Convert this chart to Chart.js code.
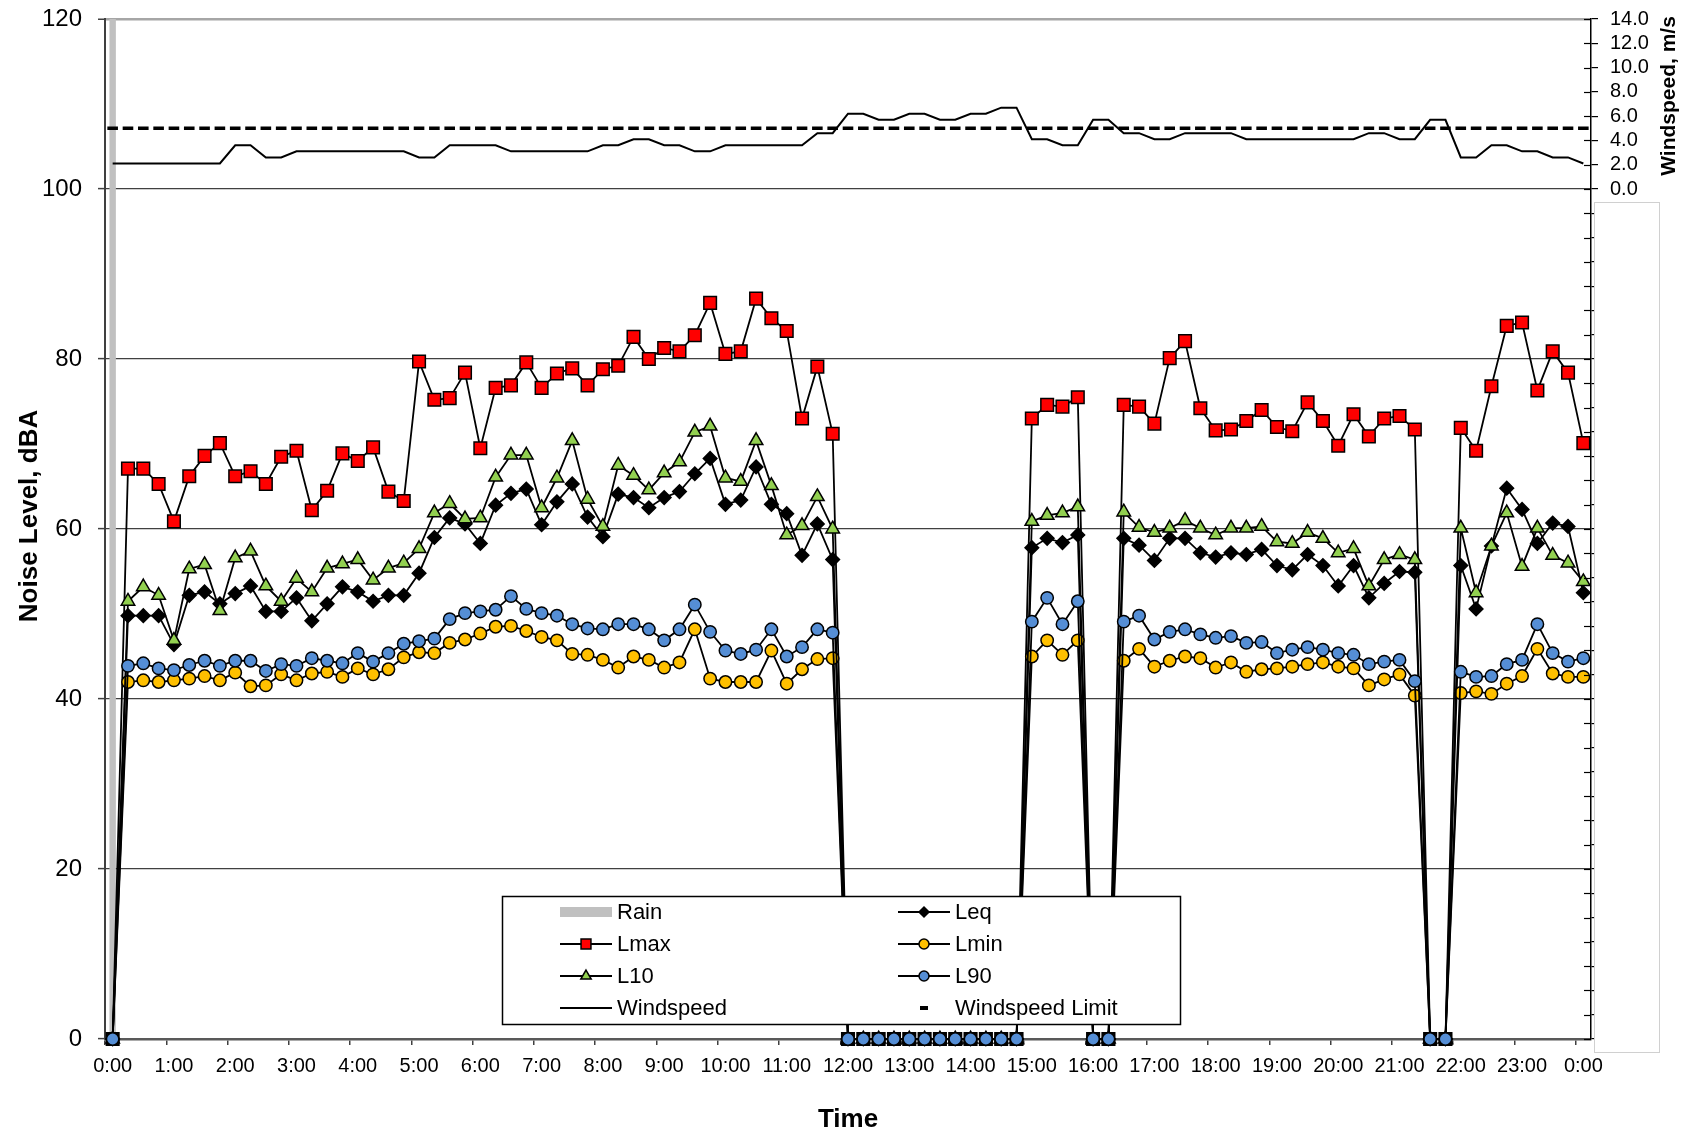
<!DOCTYPE html>
<html>
<head>
<meta charset="utf-8">
<title>Noise Level and Windspeed</title>
<script src="https://cdn.jsdelivr.net/npm/chart.js@4.4.1/dist/chart.umd.min.js"></script>
<style>
  html, body { margin: 0; padding: 0; background: #fff; }
  #wrap { width: 1686px; height: 1136px; }
</style>
</head>
<body>
<div id="wrap"><canvas id="noise-chart" width="1686" height="1136"></canvas></div>
<script>
// ============= DATA =============

// 15-minute intervals, 0:00 through to the following 0:00
const timeLabels = [];
for (let h = 0; h < 24; h++) {
  for (const m of ['00', '15', '30', '45']) timeLabels.push(h + ':' + m);
}
timeLabels.push('0:00');

// Noise levels in dBA, one row = 3 hours. 0 = no measurement for that interval
const lmax = [
  0, 67.1, 67.1, 65.3, 60.9, 66.2, 68.6, 70.1, 66.2, 66.8, 65.3, 68.5,
  69.2, 62.2, 64.5, 68.9, 68.0, 69.6, 64.4, 63.3, 79.7, 75.2, 75.4, 78.4,
  69.5, 76.6, 76.9, 79.6, 76.6, 78.3, 78.9, 76.9, 78.8, 79.2, 82.6, 80.0,
  81.3, 80.9, 82.8, 86.6, 80.6, 80.9, 87.1, 84.8, 83.3, 73.0, 79.1, 71.2,
  0, 0, 0, 0, 0, 0, 0, 0, 0, 0, 0, 0,
  73.0, 74.6, 74.4, 75.5, 0, 0, 74.6, 74.4, 72.4, 80.1, 82.1, 74.2,
  71.6, 71.7, 72.7, 74.0, 72.0, 71.5, 74.9, 72.7, 69.8, 73.5, 70.9, 73.0,
  73.3, 71.7, 0, 0, 71.9, 69.2, 76.8, 83.9, 84.3, 76.3, 80.9, 78.4,
  70.1
];

const leq = [
  0, 49.8, 49.8, 49.8, 46.4, 52.2, 52.6, 51.2, 52.4, 53.3, 50.3, 50.3,
  51.9, 49.2, 51.2, 53.2, 52.6, 51.5, 52.2, 52.2, 54.8, 59.0, 61.3, 60.6,
  58.3, 62.8, 64.2, 64.7, 60.5, 63.2, 65.3, 61.4, 59.1, 64.1, 63.7, 62.5,
  63.7, 64.4, 66.5, 68.3, 62.9, 63.4, 67.3, 62.9, 61.8, 56.9, 60.6, 56.4,
  0, 0, 0, 0, 0, 0, 0, 0, 0, 0, 0, 0,
  57.8, 58.9, 58.4, 59.3, 0, 0, 58.9, 58.1, 56.3, 58.9, 58.9, 57.2,
  56.7, 57.2, 57.0, 57.6, 55.7, 55.2, 57.0, 55.7, 53.3, 55.7, 51.9, 53.6,
  55.0, 54.9, 0, 0, 55.7, 50.6, 58.0, 64.8, 62.3, 58.3, 60.7, 60.3,
  52.5
];

const l10 = [
  0, 51.5, 53.2, 52.2, 46.9, 55.3, 55.8, 50.4, 56.6, 57.4, 53.3, 51.5,
  54.2, 52.6, 55.4, 55.9, 56.4, 54.0, 55.4, 56.0, 57.7, 61.9, 63.0, 61.2,
  61.3, 66.1, 68.7, 68.7, 62.5, 66.0, 70.4, 63.5, 60.3, 67.5, 66.3, 64.6,
  66.6, 67.9, 71.4, 72.1, 66.0, 65.6, 70.4, 65.1, 59.3, 60.4, 63.8, 60.0,
  0, 0, 0, 0, 0, 0, 0, 0, 0, 0, 0, 0,
  60.9, 61.6, 61.9, 62.6, 0, 0, 62.0, 60.2, 59.6, 60.1, 61.0, 60.1,
  59.3, 60.1, 60.1, 60.3, 58.5, 58.3, 59.6, 58.9, 57.2, 57.7, 53.3, 56.4,
  57.0, 56.4, 0, 0, 60.1, 52.5, 58.0, 61.9, 55.6, 60.1, 56.9, 56.0,
  53.8
];

const l90 = [
  0, 43.9, 44.2, 43.6, 43.4, 44.0, 44.5, 43.9, 44.5, 44.5, 43.3, 44.1,
  43.9, 44.8, 44.5, 44.2, 45.4, 44.4, 45.4, 46.5, 46.8, 47.1, 49.4, 50.1,
  50.3, 50.5, 52.1, 50.6, 50.1, 49.8, 48.8, 48.3, 48.2, 48.8, 48.8, 48.2,
  46.9, 48.2, 51.1, 47.9, 45.7, 45.3, 45.8, 48.2, 45.0, 46.1, 48.2, 47.8,
  0, 0, 0, 0, 0, 0, 0, 0, 0, 0, 0, 0,
  49.1, 51.9, 48.8, 51.5, 0, 0, 49.1, 49.8, 47.0, 47.9, 48.2, 47.6,
  47.2, 47.4, 46.6, 46.7, 45.4, 45.8, 46.1, 45.8, 45.4, 45.2, 44.1, 44.4,
  44.6, 42.1, 0, 0, 43.2, 42.6, 42.7, 44.1, 44.6, 48.8, 45.4, 44.4,
  44.8
];

const lmin = [
  0, 42.0, 42.2, 42.0, 42.2, 42.4, 42.7, 42.2, 43.1, 41.5, 41.6, 42.9,
  42.2, 43.0, 43.2, 42.6, 43.6, 42.9, 43.5, 44.9, 45.5, 45.4, 46.6, 47.0,
  47.7, 48.5, 48.6, 48.0, 47.3, 46.9, 45.3, 45.2, 44.6, 43.7, 45.0, 44.6,
  43.7, 44.3, 48.2, 42.4, 42.0, 42.0, 42.0, 45.7, 41.8, 43.5, 44.7, 44.8,
  0, 0, 0, 0, 0, 0, 0, 0, 0, 0, 0, 0,
  45.0, 46.9, 45.2, 46.9, 0, 0, 44.5, 45.9, 43.8, 44.5, 45.0, 44.8,
  43.7, 44.3, 43.2, 43.5, 43.6, 43.8, 44.1, 44.3, 43.8, 43.6, 41.6, 42.3,
  42.9, 40.4, 0, 0, 40.7, 40.9, 40.6, 41.8, 42.7, 45.9, 43.0, 42.6,
  42.6
];

// Windspeed in m/s (secondary axis)
const windspeed = [
  2.1, 2.1, 2.1, 2.1, 2.1, 2.1, 2.1, 2.1, 3.6, 3.6, 2.6, 2.6,
  3.1, 3.1, 3.1, 3.1, 3.1, 3.1, 3.1, 3.1, 2.6, 2.6, 3.6, 3.6,
  3.6, 3.6, 3.1, 3.1, 3.1, 3.1, 3.1, 3.1, 3.6, 3.6, 4.1, 4.1,
  3.6, 3.6, 3.1, 3.1, 3.6, 3.6, 3.6, 3.6, 3.6, 3.6, 4.6, 4.6,
  6.2, 6.2, 5.7, 5.7, 6.2, 6.2, 5.7, 5.7, 6.2, 6.2, 6.7, 6.7,
  4.1, 4.1, 3.6, 3.6, 5.7, 5.7, 4.6, 4.6, 4.1, 4.1, 4.6, 4.6,
  4.6, 4.6, 4.1, 4.1, 4.1, 4.1, 4.1, 4.1, 4.1, 4.1, 4.6, 4.6,
  4.1, 4.1, 5.7, 5.7, 2.6, 2.6, 3.6, 3.6, 3.1, 3.1, 2.6, 2.6,
  2.1
];

const windLimit = 5.0;

// Intervals flagged with rain, shown as a full-height bar
const rainTimes = ['0:00'];
const rainLevel = 120;

// ============= STYLES =============

const markerStyles = {
  Leq:  { pointStyle: 'rectRot',  color: '#000000', radius: 6.8, legendRadius: 5 },
  Lmax: { pointStyle: 'rect',     color: '#ff0000', radius: 8.9, legendRadius: 7, darkAtZero: true },
  Lmin: { pointStyle: 'circle',   color: '#ffc000', radius: 6.2, legendRadius: 5 },
  L10:  { pointStyle: 'triangle', color: '#92d050', radius: 7.8, legendRadius: 6, darkAtZero: true },
  L90:  { pointStyle: 'circle',   color: '#558ed5', radius: 6.2, legendRadius: 5 }
};

const legendOrder = ['Rain', 'Leq', 'Lmax', 'Lmin', 'L10', 'L90', 'Windspeed', 'Windspeed Limit'];
const FONT = '"Liberation Sans", Arial, sans-serif';

Chart.defaults.font.family = FONT;
Chart.defaults.color = '#000';

function noiseDataset(label, values, order) {
  const m = markerStyles[label];
  return {
    type: 'line',
    label: label,
    data: values,
    yAxisID: 'y',
    order: order,
    borderColor: '#000',
    borderWidth: 1.8,
    tension: 0,
    clip: false,
    pointStyle: m.pointStyle,
    pointRadius: m.radius,
    pointHoverRadius: m.radius,
    // markers for empty intervals sit on the axis in black
    pointBackgroundColor: m.darkAtZero ? c => (c.raw === 0 ? '#000' : m.color) : m.color,
    pointBorderColor: '#000',
    pointBorderWidth: 1.5,
    legendMarker: m
  };
}

// keep the plot area where it is, labels at the ends don't push it in
function fixBox(size) {
  return s => {
    if (s.isHorizontal()) s.height = size; else s.width = size;
    s.paddingTop = 0;
    s.paddingBottom = 0;
  };
}

// ============= CUSTOM DRAWING =============

function drawVerticalTitle(ctx, text, font, x, y) {
  ctx.save();
  ctx.translate(x, y);
  ctx.rotate(-Math.PI / 2);
  ctx.font = font;
  ctx.fillStyle = '#000';
  ctx.textAlign = 'center';
  ctx.textBaseline = 'alphabetic';
  ctx.fillText(text, 0, 0);
  ctx.restore();
}

function drawLegend(chart) {
  const ctx = chart.ctx;
  const box = { x: 502, y: 896, w: 678, h: 128 };
  const colX = [560, 898];
  const rowY = [912, 944, 976, 1008];
  const symW = 52;

  ctx.fillStyle = '#fff';
  ctx.fillRect(box.x, box.y, box.w, box.h);
  ctx.strokeStyle = '#000';
  ctx.lineWidth = 1.5;
  ctx.strokeRect(box.x + 0.5, box.y + 0.5, box.w, box.h);

  ctx.font = '22px ' + FONT;
  ctx.textAlign = 'left';
  ctx.textBaseline = 'middle';

  legendOrder.forEach((label, n) => {
    const ds = chart.data.datasets.find(d => d.label === label);
    const x = colX[n % 2];
    const y = rowY[Math.floor(n / 2)];
    const cx = x + symW / 2;

    if (ds.type === 'bar') {
      ctx.fillStyle = ds.backgroundColor;
      ctx.fillRect(x, y - 5, symW, 10);
    } else {
      if (ds.showLine !== false) {
        ctx.strokeStyle = '#000';
        ctx.lineWidth = 2;
        ctx.beginPath();
        ctx.moveTo(x, y);
        ctx.lineTo(x + symW, y);
        ctx.stroke();
      }
      if (ds.legendMarker) {
        const m = ds.legendMarker;
        ctx.fillStyle = m.color;
        ctx.strokeStyle = '#000';
        ctx.lineWidth = m.borderWidth || 1.5;
        Chart.helpers.drawPoint(ctx, {
          pointStyle: m.pointStyle, radius: m.legendRadius, borderWidth: ctx.lineWidth, rotation: 0
        }, cx, y);
      }
    }
    ctx.fillStyle = '#000';
    ctx.fillText(ds.label, x + symW + 5, y + 1);
  });
}

const decorPlugin = {
  id: 'noiseDecor',
  afterDraw(chart) {
    const ctx = chart.ctx;
    const area = chart.chartArea;
    const y1 = chart.scales.y1;
    ctx.save();

    // inner half of the cross ticks on the windspeed axis
    ctx.strokeStyle = '#000';
    ctx.lineWidth = 1.2;
    y1.ticks.forEach(t => {
      const py = Math.round(y1.getPixelForValue(t.value)) + 0.5;
      ctx.beginPath();
      ctx.moveTo(area.right - 7, py);
      ctx.lineTo(area.right, py);
      ctx.stroke();
    });

    // blank panel below the windspeed scale
    const px = area.right + 3;
    const py = Math.round(y1.getPixelForValue(0)) + 13;
    ctx.fillStyle = '#fff';
    ctx.fillRect(px, py, 65, area.bottom + 13 - py);
    ctx.strokeStyle = '#d0d0d0';
    ctx.lineWidth = 1;
    ctx.strokeRect(px + 0.5, py + 0.5, 65, area.bottom + 13 - py);
    ctx.restore();

    // axis titles, reading bottom to top
    drawVerticalTitle(ctx, 'Noise Level, dBA', 'bold 26px ' + FONT, 37, (area.top + area.bottom) / 2 - 13);
    const midY = (y1.getPixelForValue(14) + y1.getPixelForValue(0)) / 2 - 8;
    drawVerticalTitle(ctx, 'Windspeed, m/s', 'bold 21px ' + FONT, chart.width - 11, midY);

    ctx.save();
    drawLegend(chart);
    ctx.restore();
  }
};

// ============= CHART =============

const ctx = document.getElementById('noise-chart').getContext('2d');

const noiseChart = new Chart(ctx, {
  type: 'line',
  data: {
    labels: timeLabels,
    datasets: [
      {
        type: 'bar',
        label: 'Rain',
        data: rainTimes.map(t => ({ x: t, y: rainLevel })),
        yAxisID: 'y',
        backgroundColor: '#c0c0c0',
        barPercentage: 0.42,
        categoryPercentage: 1,
        order: 10
      },
      noiseDataset('Leq', leq, 6),
      noiseDataset('Lmax', lmax, 5),
      noiseDataset('Lmin', lmin, 4),
      noiseDataset('L10', l10, 3),
      noiseDataset('L90', l90, 2),
      {
        type: 'line',
        label: 'Windspeed',
        data: windspeed,
        yAxisID: 'y1',
        borderColor: '#000',
        borderWidth: 2,
        tension: 0,
        pointRadius: 0,
        order: 1
      },
      {
        type: 'line',
        label: 'Windspeed Limit',
        data: timeLabels.map(() => windLimit),
        yAxisID: 'y1',
        showLine: false,
        pointStyle: 'line',
        pointRadius: 5.3,
        pointBorderWidth: 3.5,
        pointBorderColor: '#000',
        pointBackgroundColor: '#000',
        order: 0,
        legendMarker: { pointStyle: 'line', color: '#000', legendRadius: 4, borderWidth: 4 }
      }
    ]
  },
  options: {
    responsive: false,
    animation: false,
    layout: { padding: { top: 19, left: 0, right: 0, bottom: 0 } },
    plugins: {
      legend: { display: false },
      tooltip: { enabled: false }
    },
    scales: {
      x: {
        type: 'category',
        offset: true,
        ticks: {
          autoSkip: false,
          maxRotation: 0,
          minRotation: 0,
          padding: 9,
          font: { size: 20 },
          color: '#000',
          callback: (value, index) => (index % 4 === 0 ? timeLabels[index] : '')
        },
        grid: {
          offset: true,
          drawOnChartArea: false,
          tickLength: 6,
          lineWidth: 1.5,
          color: c => (c.index % 4 === 0 ? '#404040' : 'rgba(0,0,0,0)')
        },
        border: { color: '#595959', width: 2.5 },
        title: {
          display: true,
          text: 'Time',
          font: { size: 26, weight: 'bold' },
          color: '#000',
          padding: { top: 0, bottom: 1 }
        },
        afterFit: fixBox(97)
      },
      y: {
        position: 'left',
        min: 0,
        max: 120,
        ticks: { stepSize: 20, padding: 16, font: { size: 24 }, color: '#000' },
        grid: {
          color: c => (c.tick && c.tick.value === 120 ? '#a6a6a6' : '#404040'),
          lineWidth: c => (c.tick && c.tick.value === 120 ? 2.5 : 1.2),
          tickLength: 7,
          tickColor: '#404040',
          tickWidth: 1.5
        },
        border: { color: '#404040', width: 2 },
        afterFit: fixBox(105)
      },
      y1: {
        position: 'right',
        min: -70,
        max: 14,
        ticks: {
          stepSize: 2,
          autoSkip: false,
          padding: 12,
          font: { size: 20 },
          color: '#000',
          callback: v => (v >= 0 ? v.toFixed(1) : '')
        },
        grid: { drawOnChartArea: false, tickLength: 7, color: '#000', lineWidth: 1.2 },
        border: { color: '#000', width: 1.5 },
        afterFit: fixBox(95)
      }
    }
  },
  plugins: [decorPlugin]
});
</script>
</body>
</html>
